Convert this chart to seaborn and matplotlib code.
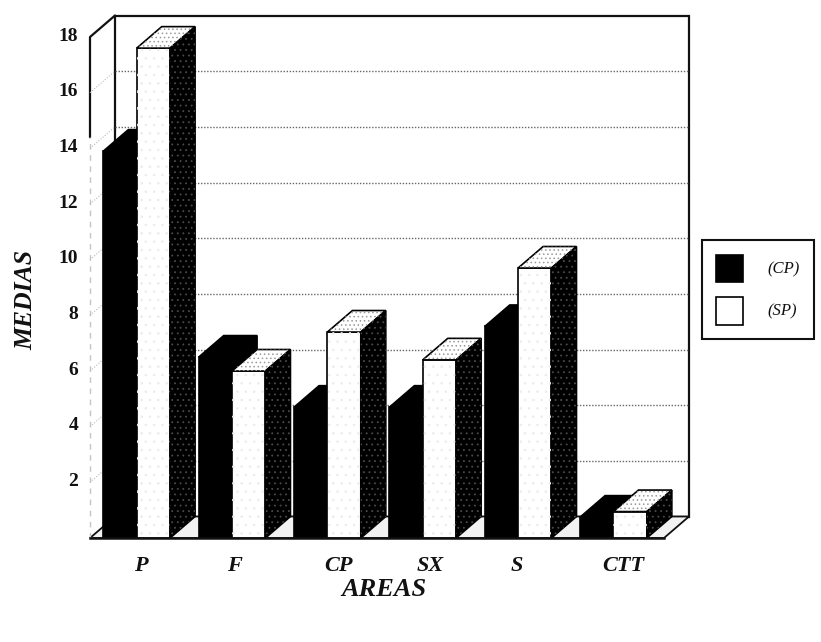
import matplotlib
matplotlib.use("Agg")
import matplotlib.pyplot as plt
import pandas as pd
import seaborn as sns
from matplotlib.patches import Polygon
from matplotlib.transforms import ScaledTranslation

areas = ["P", "F", "CP", "SX", "S", "CTT"]
cp_values = [13.9, 6.5, 4.7, 4.7, 7.6, 0.75]
sp_values = [17.6, 6.0, 7.4, 6.4, 9.7, 0.95]
y_ticks = [2, 4, 6, 8, 10, 12, 14, 16, 18]

W, H = 821, 642
sns.set_theme(style="white")
plt.rcParams["font.family"] = ["Liberation Serif", "DejaVu Serif"]
plt.rcParams["hatch.linewidth"] = 0.6

df = pd.DataFrame({
    "area": areas * 2,
    "media": cp_values + sp_values,
    "grupo": ["(CP)"] * len(areas) + ["(SP)"] * len(areas),
})

fig = plt.figure(figsize=(W / 100, H / 100), dpi=100, facecolor="white")
# axes box in pixels: x 90-664, y 37-538
ax = fig.add_axes([90 / W, 1 - 538 / H, 574 / W, 501 / H])

sns.barplot(
    data=df, x="area", y="media", hue="grupo", order=areas,
    palette=["#000000", "#ffffff"], saturation=1, width=0.7, gap=0,
    edgecolor="black", linewidth=1.2, ax=ax,
)
ax.set_xlim(-0.49, 5.53)
ax.set_ylim(0, 18)
x0, x1 = ax.get_xlim()

# depth of the fake 3d look, 25 px right and 21.5 px up
dx = 25 / (574 / (x1 - x0))
dy = 21.5 / (501 / 18)

# back wall, left wall and floor
ax.add_patch(Polygon([(x0 + dx, dy), (x1 + dx, dy), (x1 + dx, 18 + dy), (x0 + dx, 18 + dy)],
                     closed=True, fc="white", ec="#111111", lw=1.6, clip_on=False, zorder=0.5))
ax.add_patch(Polygon([(x0, 0), (x1, 0), (x1 + dx, dy), (x0 + dx, dy)],
                     closed=True, fc="#f2f2f2", ec="#111111", lw=1.3, clip_on=False, zorder=0.6))
ax.plot([x0, x0, x0 + dx], [14.4, 18, 18 + dy], color="#111111", lw=1.6, clip_on=False, zorder=0.7)
ax.plot([x0, x0], [0, 14.4], color="#c4c4c4", lw=1, ls=(0, (4, 4)), clip_on=False, zorder=0.7)

# dotted grid on the walls
for t in y_ticks[:-1]:
    ax.plot([x0, x0 + dx], [t, t + dy], color="#bbbbbb", lw=0.8,
            ls=(0, (1, 1.5)), clip_on=False, zorder=0.8)
    ax.plot([x0 + dx, x1 + dx], [t + dy, t + dy], color="#666666", lw=1,
            ls=(0, (1, 1.2)), clip_on=False, zorder=0.8)


def speckle(points, color, hatch, z):
    ax.add_patch(Polygon(points, closed=True, fc="none", ec=color, lw=0,
                         hatch=hatch, clip_on=False, zorder=z))


# top and side faces, built from the bars seaborn drew
for container, dark in zip(ax.containers, [True, False]):
    for bar in container:
        left, w, h = bar.get_x(), bar.get_width(), bar.get_height()
        right = left + w
        z = 3 + right
        bar.set_zorder(z)
        front = [(left, 0), (right, 0), (right, h), (left, h)]
        top = [(left, h), (right, h), (right + dx, h + dy), (left + dx, h + dy)]
        side = [(right, 0), (right + dx, dy), (right + dx, h + dy), (right, h)]
        ax.add_patch(Polygon(top, closed=True, fc="#000000" if dark else "#ffffff", ec="black",
                             lw=1.2, clip_on=False, zorder=z))
        ax.add_patch(Polygon(side, closed=True, fc="#000000", ec="black", lw=1.2,
                             clip_on=False, zorder=z))
        if not dark:
            speckle(top, "#9a9a9a", "....", z + 0.01)
            speckle(side, "#4a4a4a", "...", z + 0.01)
            speckle(front, "#ececec", "..", z + 0.01)

sns.despine(ax=ax, left=True, top=True, right=True)
ax.spines["bottom"].set_linewidth(1.8)
ax.spines["bottom"].set_color("#111111")
ax.spines["bottom"].set_zorder(20)
ax.set_yticks(y_ticks)
ax.tick_params(axis="both", length=0)
ax.tick_params(axis="y", pad=8.5)
ax.tick_params(axis="x", pad=13)
for label in ax.get_yticklabels():
    label.set(fontsize=14, fontweight="bold", color="#111111")
    label.set_transform(label.get_transform() + ScaledTranslation(0, 2 / 72, fig.dpi_scale_trans))
# the printed labels sit a little off the group centres
x_label_shift = [4, 2, 11, 7, -1, 10]
for label, shift in zip(ax.get_xticklabels(), x_label_shift):
    label.set(fontsize=16, fontweight="bold", fontstyle="italic", color="#111111")
    label.set_transform(label.get_transform() + ScaledTranslation(shift / 100, 0, fig.dpi_scale_trans))

fig.text(26 / W, 1 - 300 / H, "MEDIAS", rotation=90, ha="center", va="center",
         fontsize=18.5, fontweight="bold", fontstyle="italic", color="#111111")
fig.text(384 / W, 1 - 590 / H, "AREAS", ha="center", va="center",
         fontsize=19, fontweight="bold", fontstyle="italic", color="#111111")
ax.set_xlabel("")
ax.set_ylabel("")

sns.move_legend(
    ax, "center left", bbox_to_anchor=(702 / W, 1 - 289.5 / H), bbox_transform=fig.transFigure,
    title=None, frameon=True, fancybox=False, edgecolor="#111111", framealpha=1,
    prop={"style": "italic", "size": 12, "family": "Liberation Serif"},
    handlelength=1.6, handleheight=2.2, labelspacing=0.85, handletextpad=1.5,
    borderpad=0.85, borderaxespad=0, labelcolor="#111111",
)
ax.get_legend().get_frame().set_linewidth(1.5)

fig.savefig("out.png", dpi=100)
